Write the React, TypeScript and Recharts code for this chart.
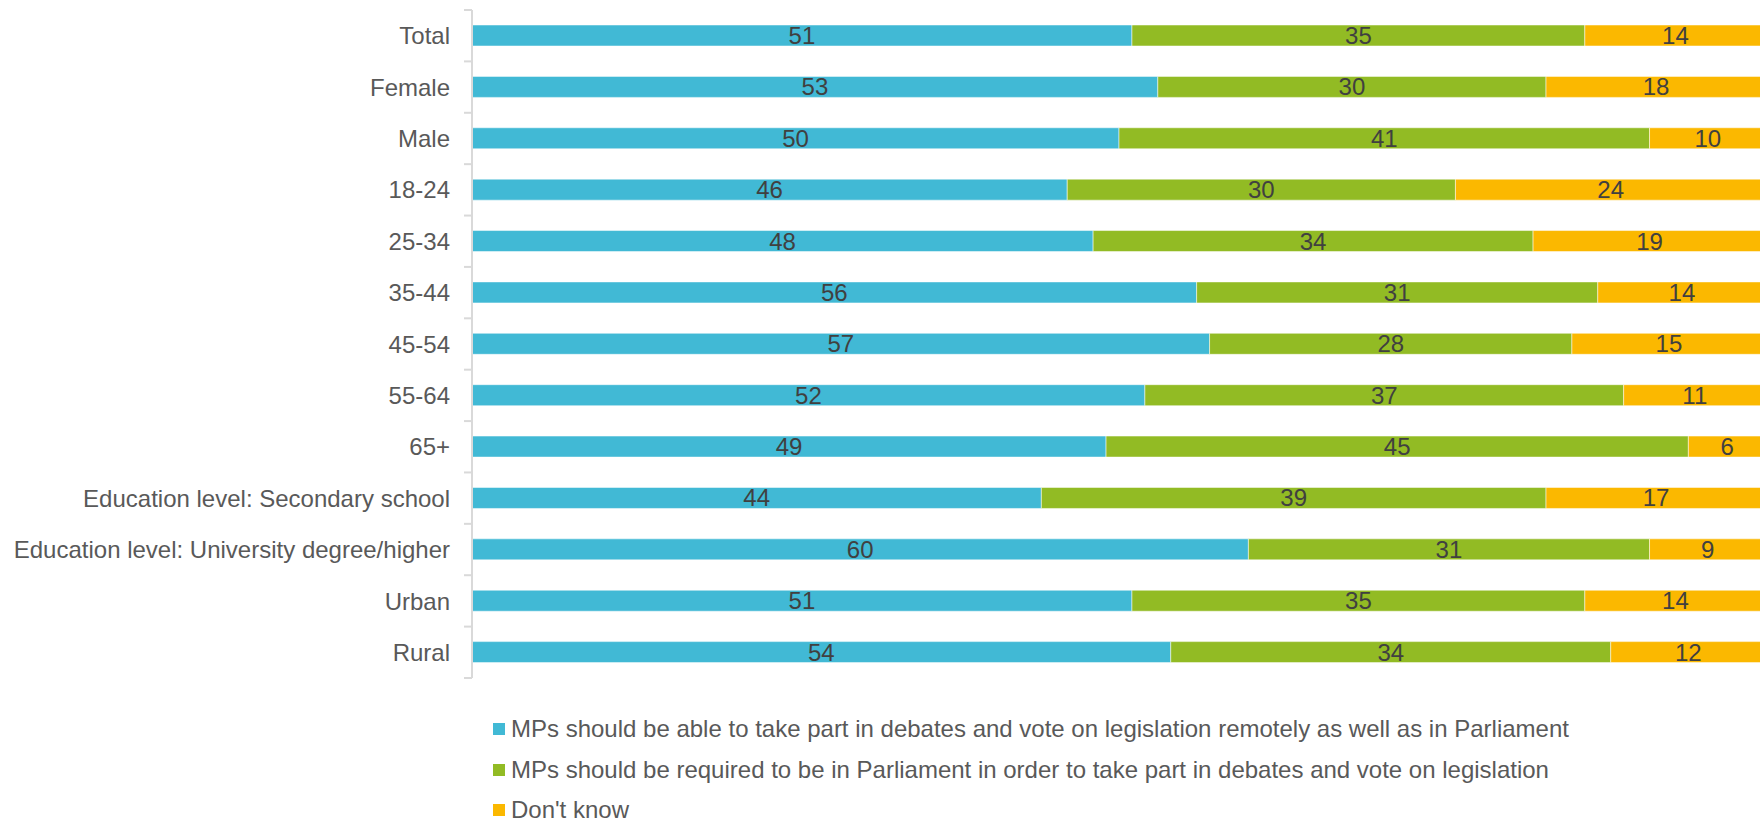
import React from "react";
import { BarChart, Bar, XAxis, YAxis, LabelList, Legend } from "recharts";

const categories = [
  "Total",
  "Female",
  "Male",
  "18-24",
  "25-34",
  "35-44",
  "45-54",
  "55-64",
  "65+",
  "Education level: Secondary school",
  "Education level: University degree/higher",
  "Urban",
  "Rural",
];

const remoteValues = [51, 53, 50, 46, 48, 56, 57, 52, 49, 44, 60, 51, 54];
const parliamentValues = [35, 30, 41, 30, 34, 31, 28, 37, 45, 39, 31, 35, 34];
const dontKnowValues = [14, 18, 10, 24, 19, 14, 15, 11, 6, 17, 9, 14, 12];

const seriesNames = [
  "MPs should be able to take part in debates and vote on legislation remotely as well as in Parliament",
  "MPs should be required to be in Parliament in order to take part in debates and vote on legislation",
  "Don't know",
];

const COLORS = ["#41B9D5", "#92BB24", "#FBB800"];

const data = categories.map((c, i) => ({
  category: c,
  remote: remoteValues[i],
  parliament: parliamentValues[i],
  dontknow: dontKnowValues[i],
}));

const CHART_W = 1770;
const CHART_H = 825;
const M_TOP = 10;
const M_BOTTOM = 147;
const PLOT_H = CHART_H - M_TOP - M_BOTTOM;
const BAND = PLOT_H / categories.length;
const FONT = "'Liberation Sans', Arial, sans-serif";
const TICK_MARGIN = 22;

function CategoryTick(props: any) {
  const { x, y, payload, index } = props;
  const ax = x + TICK_MARGIN;
  return (
    <g>
      <text
        x={x}
        y={y}
        dy="0.36em"
        textAnchor="end"
        fill="#595959"
        fontSize={24}
        fontFamily={FONT}
      >
        {payload.value}
      </text>
      <line x1={ax - 8} x2={ax} y1={y - BAND / 2} y2={y - BAND / 2} stroke="#d9d9d9" strokeWidth={2} />
      {index === categories.length - 1 && (
        <line x1={ax - 8} x2={ax} y1={y + BAND / 2} y2={y + BAND / 2} stroke="#d9d9d9" strokeWidth={2} />
      )}
    </g>
  );
}

function renderLegend(props: any) {
  const items = [...(props.payload || [])].sort(
    (a: any, b: any) => seriesNames.indexOf(a.value) - seriesNames.indexOf(b.value)
  );
  return (
    <div style={{ fontFamily: FONT }}>
      {items.map((entry: any, i: number) => (
        <div
          key={i}
          style={{ display: "flex", alignItems: "center", height: 40.5, whiteSpace: "nowrap" }}
        >
          <span
            style={{
              display: "inline-block",
              width: 12,
              height: 12,
              background: entry.color,
              marginRight: 6,
            }}
          />
          <span style={{ fontSize: 24, lineHeight: "20px", color: "#595959" }}>{entry.value}</span>
        </div>
      ))}
    </div>
  );
}

const labelStyle = { fill: "#404040", fontSize: 24, fontFamily: FONT };

export default function App() {
  return (
    <div
      style={{
        position: "absolute",
        left: 0,
        top: 0,
        width: 1760,
        height: 825,
        overflow: "hidden",
        background: "#fff",
      }}
    >
      <BarChart
        width={CHART_W}
        height={CHART_H}
        data={data}
        layout="vertical"
        margin={{ top: M_TOP, right: 4, bottom: M_BOTTOM, left: 0 }}
        barSize={21}
      >
        <XAxis type="number" domain={[0, 100]} allowDataOverflow hide />
        <YAxis
          type="category"
          dataKey="category"
          width={472}
          tickLine={false}
          tickSize={0}
          tickMargin={TICK_MARGIN}
          axisLine={{ stroke: "#d9d9d9", strokeWidth: 2 }}
          tick={<CategoryTick />}
          interval={0}
        />
        <Legend
          layout="vertical"
          align="center"
          verticalAlign="middle"
          wrapperStyle={{ left: 493, top: 709, width: 1250, height: 122 }}
          content={renderLegend}
        />
        <Bar
          dataKey="remote"
          name={seriesNames[0]}
          stackId="a"
          fill={COLORS[0]}
          stroke="#ffffff"
          strokeOpacity={0.5}
          strokeWidth={1}
          isAnimationActive={false}
        >
          <LabelList dataKey="remote" position="center" style={labelStyle} />
        </Bar>
        <Bar
          dataKey="parliament"
          name={seriesNames[1]}
          stackId="a"
          fill={COLORS[1]}
          stroke="#ffffff"
          strokeOpacity={0.5}
          strokeWidth={1}
          isAnimationActive={false}
        >
          <LabelList dataKey="parliament" position="center" style={labelStyle} />
        </Bar>
        <Bar
          dataKey="dontknow"
          name={seriesNames[2]}
          stackId="a"
          fill={COLORS[2]}
          stroke="#ffffff"
          strokeOpacity={0.5}
          strokeWidth={1}
          isAnimationActive={false}
        >
          <LabelList dataKey="dontknow" position="center" style={labelStyle} />
        </Bar>
      </BarChart>
    </div>
  );
}
